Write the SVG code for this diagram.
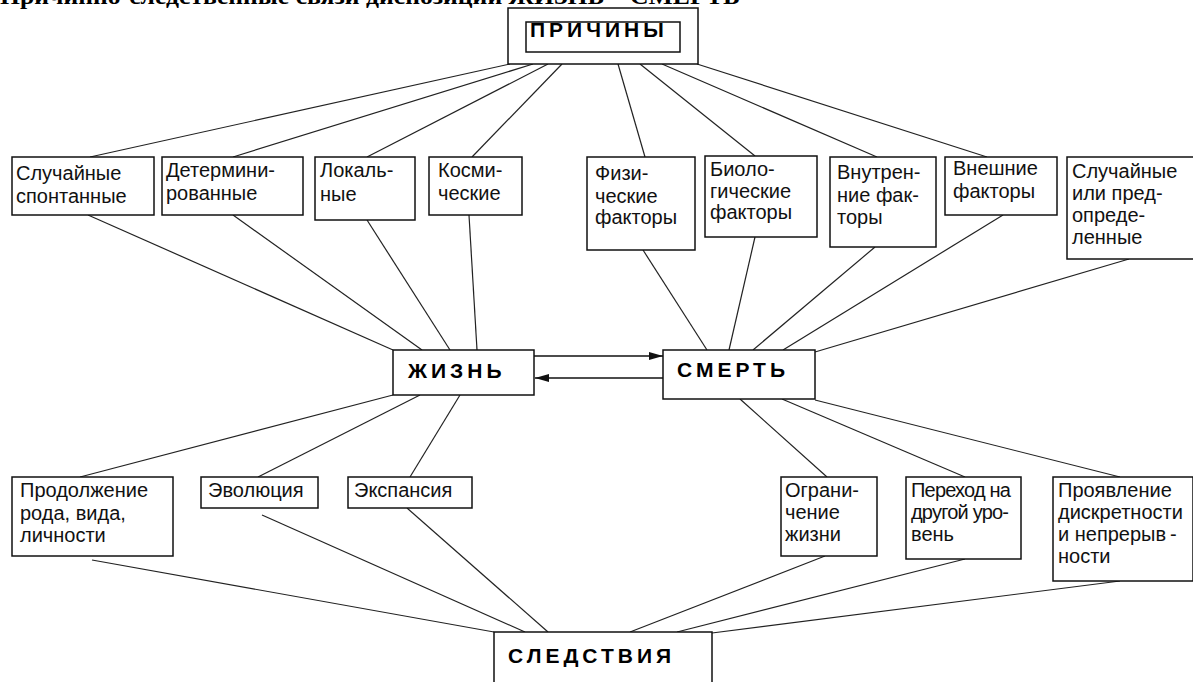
<svg xmlns="http://www.w3.org/2000/svg" width="1193" height="682" viewBox="0 0 1193 682">
  <style>
    .box { fill: #fff; stroke: #111; stroke-width: 1.5; }
    .lbl { font-family: "Liberation Sans", Arial, sans-serif; font-size: 20px; fill: #111; }
    .hdr { font-family: "Liberation Sans", Arial, sans-serif; font-size: 21px; font-weight: bold; letter-spacing: 4px; fill: #000; }
    .ttl { font-family: "Liberation Serif", "Times New Roman", serif; font-size: 24px; font-weight: bold; fill: #000; }
    .ln { stroke: #222; stroke-width: 1.2; fill: none; }
    .arr { stroke: #111; stroke-width: 1.5; fill: none; }
  </style>
  <defs>
    <marker id="ah" viewBox="0 0 14 8" refX="14" refY="4" markerWidth="14" markerHeight="8" markerUnits="userSpaceOnUse" orient="auto">
      <path d="M0,0 L14,4 L0,8 Z" fill="#111"/>
    </marker>
  </defs>
  <rect width="1193" height="682" fill="#fff"/>

  <!-- heading line, mostly above the top edge -->
  <text class="ttl" x="0" y="4" textLength="740" lengthAdjust="spacingAndGlyphs">Причинно-следственные связи диспозиции ЖИЗНЬ – СМЕРТЬ</text>

  <!-- connectors -->
  <g id="connectors">
    <!-- causes to first row -->
    <line class="ln" x1="510" y1="64" x2="90" y2="157"/>
    <line class="ln" x1="533" y1="64" x2="233" y2="157"/>
    <line class="ln" x1="548" y1="64" x2="367" y2="157"/>
    <line class="ln" x1="562" y1="64" x2="472" y2="157"/>
    <line class="ln" x1="618" y1="64" x2="645" y2="157"/>
    <line class="ln" x1="640" y1="64" x2="755" y2="156"/>
    <line class="ln" x1="662" y1="64" x2="877" y2="157"/>
    <line class="ln" x1="697" y1="64" x2="987" y2="157"/>
    <!-- first row to life -->
    <line class="ln" x1="88" y1="215" x2="393" y2="350"/>
    <line class="ln" x1="233" y1="215" x2="422" y2="350"/>
    <line class="ln" x1="367" y1="220" x2="450" y2="350"/>
    <line class="ln" x1="469" y1="215" x2="477" y2="350"/>
    <!-- first row to death -->
    <line class="ln" x1="643" y1="250" x2="707" y2="350"/>
    <line class="ln" x1="755" y1="237" x2="729" y2="350"/>
    <line class="ln" x1="875" y1="247" x2="753" y2="350"/>
    <line class="ln" x1="1003" y1="215" x2="783" y2="350"/>
    <line class="ln" x1="1129" y1="259" x2="815" y2="352"/>
    <!-- life to consequences -->
    <line class="ln" x1="393" y1="395" x2="80" y2="477"/>
    <line class="ln" x1="420" y1="395" x2="258" y2="477"/>
    <line class="ln" x1="460" y1="395" x2="410" y2="477"/>
    <!-- death to consequences -->
    <line class="ln" x1="740" y1="399" x2="827" y2="477"/>
    <line class="ln" x1="782" y1="399" x2="965" y2="477"/>
    <line class="ln" x1="815" y1="400" x2="1120" y2="477"/>
    <!-- consequences to bottom -->
    <line class="ln" x1="92" y1="560" x2="494" y2="632"/>
    <line class="ln" x1="262" y1="515" x2="525" y2="632"/>
    <line class="ln" x1="407" y1="508" x2="548" y2="632"/>
    <line class="ln" x1="825" y1="556" x2="630" y2="632"/>
    <line class="ln" x1="965" y1="559" x2="677" y2="632"/>
    <line class="ln" x1="1120" y1="581" x2="712" y2="633"/>
    <!-- life / death arrows -->
    <line class="arr" x1="534" y1="356" x2="663" y2="356" marker-end="url(#ah)"/>
    <line class="arr" x1="663" y1="378" x2="535" y2="378" marker-end="url(#ah)"/>
  </g>

  <g id="causes">
    <rect class="box" x="508" y="8" width="190" height="56"/>
    <rect class="box" x="526" y="22" width="154" height="30"/>
    <text class="hdr" x="530" y="37">ПРИЧИНЫ</text>
  </g>

  <g id="random-spontaneous">
    <rect class="box" x="12" y="157" width="142" height="58"/>
    <text class="lbl" x="16" y="180">Случайные</text>
    <text class="lbl" x="16" y="203">спонтанные</text>
  </g>
  <g id="determined">
    <rect class="box" x="162" y="157" width="141" height="58"/>
    <text class="lbl" x="166" y="177">Детермини-</text>
    <text class="lbl" x="166" y="200">рованные</text>
  </g>
  <g id="local">
    <rect class="box" x="315" y="157" width="100" height="63"/>
    <text class="lbl" x="320" y="177">Локаль-</text>
    <text class="lbl" x="320" y="201">ные</text>
  </g>
  <g id="cosmic">
    <rect class="box" x="429" y="157" width="93" height="58"/>
    <text class="lbl" x="438" y="177">Косми-</text>
    <text class="lbl" x="438" y="200">ческие</text>
  </g>
  <g id="physical">
    <rect class="box" x="587" y="157" width="108" height="93"/>
    <text class="lbl" x="595" y="180">Физи-</text>
    <text class="lbl" x="595" y="203">ческие</text>
    <text class="lbl" x="595" y="224">факторы</text>
  </g>
  <g id="biological">
    <rect class="box" x="705" y="156" width="112" height="81"/>
    <text class="lbl" x="710" y="176">Биоло-</text>
    <text class="lbl" x="710" y="198">гические</text>
    <text class="lbl" x="710" y="219">факторы</text>
  </g>
  <g id="internal">
    <rect class="box" x="830" y="157" width="106" height="90"/>
    <text class="lbl" x="837" y="179">Внутрен-</text>
    <text class="lbl" x="837" y="202">ние фак-</text>
    <text class="lbl" x="837" y="224">торы</text>
  </g>
  <g id="external">
    <rect class="box" x="945" y="157" width="112" height="58"/>
    <text class="lbl" x="953" y="175">Внешние</text>
    <text class="lbl" x="953" y="198">факторы</text>
  </g>
  <g id="random-predetermined">
    <rect class="box" x="1067" y="157" width="130" height="102"/>
    <text class="lbl" x="1072" y="178">Случайные</text>
    <text class="lbl" x="1072" y="200">или пред-</text>
    <text class="lbl" x="1072" y="222">опреде-</text>
    <text class="lbl" x="1072" y="244">ленные</text>
  </g>

  <g id="life">
    <rect class="box" x="393" y="350" width="141" height="45"/>
    <text class="hdr" x="408" y="378">ЖИЗНЬ</text>
  </g>
  <g id="death">
    <rect class="box" x="663" y="350" width="152" height="49"/>
    <text class="hdr" x="677" y="377">СМЕРТЬ</text>
  </g>

  <g id="continuation">
    <rect class="box" x="12" y="477" width="161" height="79"/>
    <text class="lbl" x="20" y="497">Продолжение</text>
    <text class="lbl" x="20" y="520">рода, вида,</text>
    <text class="lbl" x="20" y="542">личности</text>
  </g>
  <g id="evolution">
    <rect class="box" x="201" y="477" width="117" height="31"/>
    <text class="lbl" x="208" y="497">Эволюция</text>
  </g>
  <g id="expansion">
    <rect class="box" x="348" y="477" width="124" height="31"/>
    <text class="lbl" x="354" y="497">Экспансия</text>
  </g>
  <g id="limitation">
    <rect class="box" x="781" y="477" width="96" height="79"/>
    <text class="lbl" x="785" y="497">Ограни-</text>
    <text class="lbl" x="785" y="519">чение</text>
    <text class="lbl" x="785" y="541">жизни</text>
  </g>
  <g id="transition">
    <rect class="box" x="906" y="477" width="115" height="82"/>
    <text class="lbl" x="911" y="497" letter-spacing="-0.8">Переход на</text>
    <text class="lbl" x="911" y="519" letter-spacing="-0.8">другой уро-</text>
    <text class="lbl" x="911" y="541">вень</text>
  </g>
  <g id="manifestation">
    <rect class="box" x="1053" y="477" width="140" height="104"/>
    <text class="lbl" x="1058" y="497">Проявление</text>
    <text class="lbl" x="1058" y="519">дискретности</text>
    <text class="lbl" x="1058" y="541">и непрерыв<tspan dx="4">-</tspan></text>
    <text class="lbl" x="1058" y="563">ности</text>
  </g>

  <g id="consequences">
    <rect class="box" x="494" y="632" width="218" height="60"/>
    <text class="hdr" x="508" y="663">СЛЕДСТВИЯ</text>
  </g>
</svg>
